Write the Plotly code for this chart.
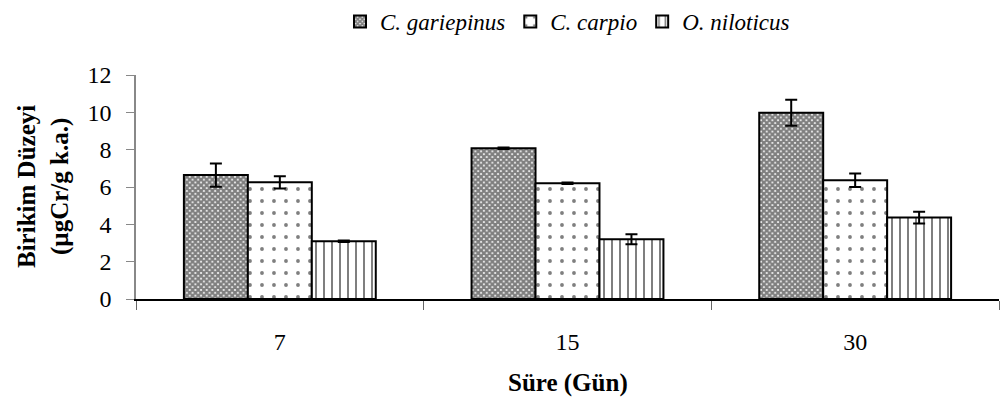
import plotly.graph_objects as go

categories = ["7", "15", "30"]
series_names = ["C. gariepinus", "C. carpio", "O. niloticus"]
gariepinus = [6.64, 8.07, 9.98]
gariepinus_err = [0.62, 0.04, 0.70]
carpio = [6.25, 6.20, 6.36]
carpio_err = [0.33, 0.04, 0.36]
niloticus = [3.10, 3.20, 4.36]
niloticus_err = [0.04, 0.27, 0.32]
y_ticks = [0, 2, 4, 6, 8, 10, 12]

FONT = "Liberation Serif"

patterns = [
    dict(shape="x", size=4, solidity=0.8, fgcolor="black", bgcolor="white"),
    dict(shape=".", size=12, solidity=0.08, fgcolor="black", bgcolor="white"),
    dict(shape="|", size=8, solidity=0.25, fgcolor="black", bgcolor="white"),
]

fig = go.Figure()
for name, vals, errs, pat in zip(series_names,
                                 [gariepinus, carpio, niloticus],
                                 [gariepinus_err, carpio_err, niloticus_err],
                                 patterns):
    fig.add_trace(go.Bar(
        x=categories, y=vals, name=name,
        marker=dict(color="white", pattern=pat, line=dict(color="black", width=2)),
        error_y=dict(type="data", array=errs, visible=True, color="black", thickness=2, width=6),
    ))

fig.update_layout(
    width=1008, height=412,
    margin=dict(l=136, r=9, t=75, b=113),
    paper_bgcolor="white", plot_bgcolor="white",
    barmode="group", bargap=0.333, bargroupgap=0,
    font=dict(family=FONT, size=24, color="black"),
    showlegend=True,
    legend=dict(orientation="h", x=0.5, xanchor="center", y=1.0, yref="container", yanchor="top",
                font=dict(family=FONT, size=23, style="italic", color="black"), itemwidth=30,
                bgcolor="rgba(0,0,0,0)", tracegroupgap=0),
    xaxis=dict(type="category", showline=True, linecolor="black", linewidth=1.5,
               ticks="outside", tickson="boundaries", ticklen=9, tickcolor="#666",
               tickfont=dict(family=FONT, size=24, color="black"), ticklabelstandoff=20,
               showgrid=False),
    yaxis=dict(range=[0, 12], tickvals=y_ticks, showline=True, linecolor="#888", linewidth=1.5,
               ticks="outside", ticklen=8, tickcolor="#888",
               tickfont=dict(family=FONT, size=24, color="black"),
               ticklabelstandoff=10, showgrid=False, zeroline=False),
    annotations=[
        dict(text="<b>Birikim Düzeyi</b><br><b>(µgCr/g k.a.)</b>", textangle=-90,
             xref="paper", yref="paper", x=(43 - 136) / 863, y=0.5,
             xanchor="center", yanchor="middle", showarrow=False,
             font=dict(family=FONT, size=25, color="black")),
        dict(text="<b>Süre (Gün)</b>", xref="paper", yref="paper",
             x=0.5, y=(299 - 383) / 224, xanchor="center", yanchor="middle",
             showarrow=False, font=dict(family=FONT, size=25, color="black")),
    ],
)

fig.write_html("out.html")
